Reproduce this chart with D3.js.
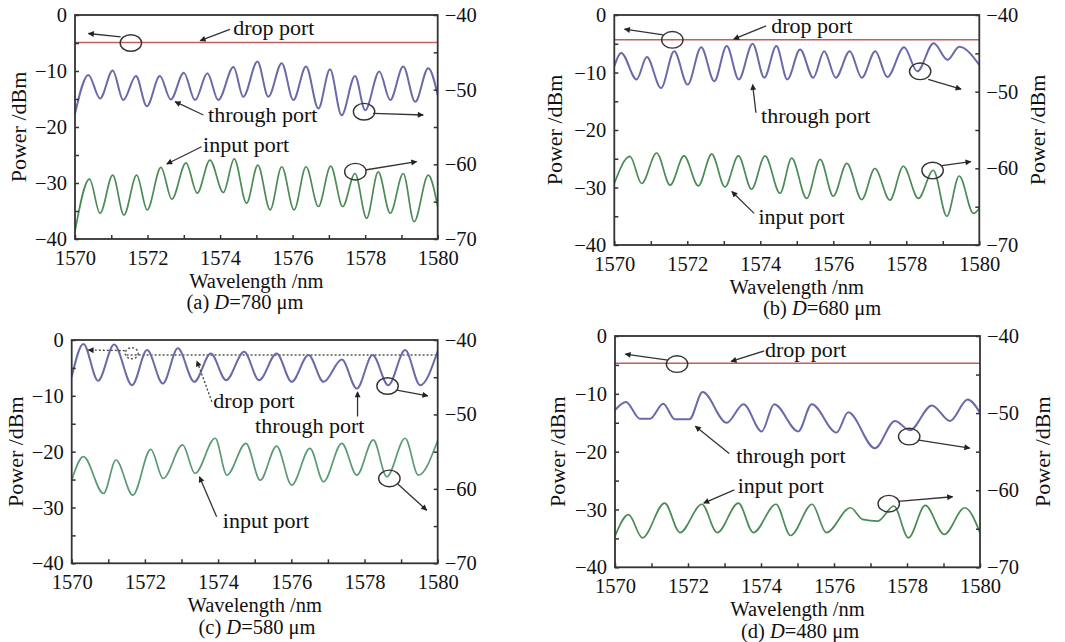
<!DOCTYPE html>
<html>
<head>
<meta charset="utf-8">
<script src="https://cdn.jsdelivr.net/npm/d3@7"></script>
<style>
  body { margin: 0; background: #fff; }
  svg text { font-family: "Liberation Serif", "Times New Roman", "DejaVu Serif", serif; fill: #111; }
</style>
</head>
<body>
<svg id="chart" width="1065" height="642"></svg>
<script>
// axis values
const wavelengthTicks = [1570, 1571, 1572, 1573, 1574, 1575, 1576, 1577, 1578, 1579, 1580];
const leftTicks = [0, -5, -10, -15, -20, -25, -30, -35, -40];
const rightTicks = [-40, -45, -50, -55, -60, -65, -70];

// (a) D=780 um  [wavelength nm, power dBm]
const throughA = [[1570.00,-17.6],[1570.37,-10.7],[1570.69,-14.9],[1571.04,-9.9],[1571.33,-15.2],[1571.68,-10.9],[1571.98,-16.3],[1572.34,-10.9],[1572.64,-15.1],[1573.00,-10.3],[1573.31,-15.2],[1573.65,-10.4],[1573.95,-15.2],[1574.37,-9.3],[1574.64,-14.6],[1575.03,-8.3],[1575.33,-14.6],[1575.70,-8.6],[1576.02,-15.2],[1576.37,-9.2],[1576.71,-16.7],[1577.03,-9.7],[1577.35,-17.9],[1577.72,-10.9],[1578.00,-17.0],[1578.39,-10.1],[1578.69,-15.2],[1579.05,-9.2],[1579.38,-15.5],[1579.74,-9.5],[1580.00,-14.3]];
const inputA = [[1570.00,-38.6],[1570.40,-29.3],[1570.69,-35.4],[1571.04,-28.6],[1571.35,-35.7],[1571.70,-28.6],[1571.99,-34.8],[1572.37,-27.2],[1572.67,-32.9],[1573.06,-26.4],[1573.37,-31.8],[1573.72,-25.9],[1574.09,-31.7],[1574.39,-25.7],[1574.73,-33.6],[1575.04,-26.8],[1575.38,-34.8],[1575.70,-27.1],[1576.04,-34.8],[1576.37,-27.1],[1576.71,-34.2],[1577.05,-27.0],[1577.38,-34.2],[1577.72,-28.3],[1578.04,-36.3],[1578.36,-28.0],[1578.69,-35.4],[1579.05,-28.3],[1579.35,-36.9],[1579.74,-28.6],[1580.00,-34.2]];
const dropA = [[1570,-4.9],[1580,-4.9]];

// (b) D=680 um
const throughB = [[1570.00,-8.9],[1570.19,-6.6],[1570.61,-11.2],[1570.89,-7.3],[1571.28,-12.7],[1571.64,-6.3],[1572.01,-12.1],[1572.38,-5.6],[1572.74,-11.5],[1573.08,-5.4],[1573.41,-11.2],[1573.79,-5.0],[1574.11,-10.9],[1574.44,-5.4],[1574.74,-11.2],[1575.09,-6.0],[1575.45,-10.9],[1575.75,-6.3],[1576.07,-10.9],[1576.45,-6.3],[1576.78,-10.9],[1577.15,-6.3],[1577.48,-10.8],[1577.94,-5.6],[1578.30,-9.8],[1578.75,-4.9],[1579.13,-7.8],[1579.45,-5.5],[1580.00,-8.7]];
const inputB = [[1570.00,-29.3],[1570.43,-24.6],[1570.75,-29.3],[1571.16,-24.0],[1571.53,-29.6],[1571.91,-24.5],[1572.30,-29.7],[1572.67,-24.2],[1573.03,-29.9],[1573.40,-24.5],[1573.76,-30.3],[1574.13,-24.5],[1574.54,-31.0],[1574.86,-24.9],[1575.27,-31.9],[1575.64,-25.1],[1576.00,-31.5],[1576.37,-25.8],[1576.78,-32.1],[1577.14,-26.7],[1577.55,-32.2],[1577.92,-26.3],[1578.33,-31.9],[1578.74,-27.0],[1579.11,-35.0],[1579.45,-28.0],[1579.84,-34.5],[1580.00,-33.6]];
const dropB = [[1570,-4.3],[1580,-4.3]];

// (c) D=580 um
const throughC = [[1570.00,-6.6],[1570.32,-0.7],[1570.72,-7.3],[1571.16,-0.8],[1571.65,-8.1],[1572.06,-1.8],[1572.49,-7.8],[1572.90,-1.5],[1573.35,-7.5],[1573.80,-2.4],[1574.22,-7.2],[1574.71,-2.1],[1575.12,-7.2],[1575.60,-2.4],[1576.01,-7.5],[1576.47,-2.7],[1576.88,-7.5],[1577.38,-3.5],[1577.79,-8.7],[1578.22,-2.7],[1578.65,-8.1],[1579.11,-1.8],[1579.52,-8.1],[1580.00,-2.0]];
const inputC = [[1570.00,-25.1],[1570.32,-20.9],[1570.87,-27.5],[1571.21,-21.5],[1571.67,-27.8],[1572.16,-19.6],[1572.50,-24.8],[1573.03,-18.8],[1573.37,-23.9],[1573.92,-17.6],[1574.24,-24.2],[1574.76,-18.5],[1575.15,-25.1],[1575.60,-19.0],[1576.01,-26.0],[1576.51,-19.4],[1576.88,-25.4],[1577.38,-18.5],[1577.79,-24.2],[1578.24,-17.9],[1578.61,-24.5],[1579.11,-17.6],[1579.47,-24.2],[1580.00,-18.0]];
const dropC = [[1571.5,-2.7],[1580,-2.7]];

// (d) D=480 um
const throughD = [[1570.00,-12.8],[1570.30,-11.4],[1570.68,-14.3],[1570.96,-14.3],[1571.32,-11.7],[1571.64,-14.4],[1572.04,-14.4],[1572.40,-9.7],[1573.06,-15.0],[1573.52,-11.8],[1574.02,-16.5],[1574.36,-11.8],[1575.02,-16.5],[1575.39,-11.8],[1576.07,-16.7],[1576.39,-13.2],[1577.12,-19.4],[1577.67,-14.7],[1578.08,-16.3],[1578.68,-12.0],[1579.18,-14.7],[1579.66,-11.0],[1580.00,-13.3]];
const inputD = [[1570.00,-34.6],[1570.37,-30.9],[1570.75,-34.9],[1571.36,-28.9],[1571.78,-34.0],[1572.38,-29.1],[1572.80,-34.0],[1573.38,-28.9],[1573.79,-34.0],[1574.41,-29.1],[1574.81,-34.5],[1575.40,-29.1],[1575.79,-34.0],[1576.45,-29.7],[1576.78,-31.7],[1577.20,-32.0],[1577.64,-29.4],[1578.04,-34.9],[1578.50,-29.3],[1579.02,-34.3],[1579.58,-29.7],[1580.00,-34.0]];
const dropD = [[1570,-4.7],[1580,-4.7]];

const panels = [
  { left: 75, right: 437.7, top: 15, bottom: 239, leftTitleX: 18, rightTitleX: null, captionX: 245,
    caption: ["(a) ", "D", "=780 μm"], through: throughA, input: inputA, drop: dropA, dropDotted: false,
    inputColor: "#4b8b55",
    notes: [
      { ellipse: [1571.54, -5.0] }, { from: [1571.26, -3.9], to: [1570.37, -3.3] },
      { text: "drop port", at: [1574.36, -3.57] }, { from: [1574.27, -2.55], to: [1573.45, -4.59] },
      { text: "through port", at: [1573.67, -19.05] }, { from: [1573.54, -17.86], to: [1572.76, -15.48] },
      { ellipse: [1577.97, -17.27] }, { from: [1578.22, -17.55], to: [1579.60, -17.86] },
      { text: "input port", at: [1573.53, -24.4] }, { from: [1573.49, -23.52], to: [1572.53, -26.6] },
      { ellipse: [1577.73, -27.98] }, { from: [1578.0, -27.68], to: [1579.42, -26.2] }
    ] },
  { left: 614.3, right: 979.3, top: 15, bottom: 245, leftTitleX: 554, rightTitleX: 1037, captionX: 822,
    caption: ["(b) ", "D", "=680 μm"], through: throughB, input: inputB, drop: dropB, dropDotted: false,
    inputColor: "#4b8b55",
    notes: [
      { ellipse: [1571.59, -4.32] }, { from: [1571.34, -3.45], to: [1570.28, -2.47] },
      { text: "drop port", at: [1574.30, -3.17] }, { from: [1574.16, -1.9], to: [1573.27, -4.2] },
      { text: "through port", at: [1574.02, -18.8] }, { from: [1573.88, -17.0], to: [1573.79, -12.1] },
      { ellipse: [1578.38, -9.8] }, { from: [1578.6, -11.2], to: [1579.50, -12.9] },
      { text: "input port", at: [1573.95, -36.3] }, { from: [1573.83, -34.5], to: [1573.22, -30.7] },
      { ellipse: [1578.72, -27.05] }, { from: [1578.97, -26.2], to: [1579.77, -25.5] }
    ] },
  { left: 71.7, right: 437.7, top: 340, bottom: 563.3, leftTitleX: 15, rightTitleX: null, captionX: 257,
    caption: ["(c) ", "D", "=580 μm"], through: throughC, input: inputC, drop: dropC, dropDotted: true,
    inputColor: "#5a9a74",
    notes: [
      { ellipse: [1571.64, -2.38], small: true }, { from: [1571.45, -1.9], to: [1570.45, -1.8], dotted: true },
      { text: "drop port", at: [1573.87, -12.2] }, { from: [1573.83, -11.05], to: [1573.42, -3.76], dotted: true },
      { text: "through port", at: [1575.01, -16.7] }, { from: [1577.81, -13.7], to: [1577.81, -9.3] },
      { ellipse: [1578.63, -8.24] }, { from: [1578.88, -8.96], to: [1579.73, -10.0] },
      { text: "input port", at: [1574.13, -33.75] }, { from: [1573.96, -31.66], to: [1573.49, -24.5] },
      { ellipse: [1578.68, -24.8] }, { from: [1578.91, -25.8], to: [1579.70, -30.5] }
    ] },
  { left: 615, right: 980, top: 336, bottom: 567.3, leftTitleX: 557, rightTitleX: 1042, captionX: 800,
    caption: ["(d) ", "D", "=480 μm"], through: throughD, input: inputD, drop: dropD, dropDotted: false,
    inputColor: "#4b8b55",
    notes: [
      { ellipse: [1571.70, -4.86] }, { from: [1571.45, -4.17], to: [1570.28, -3.14] },
      { text: "drop port", at: [1574.11, -3.71] }, { from: [1574.09, -2.57], to: [1573.18, -4.4] },
      { text: "through port", at: [1573.32, -21.9] }, { from: [1573.13, -20.3], to: [1572.20, -15.6] },
      { ellipse: [1578.06, -17.4] }, { from: [1578.32, -18.0], to: [1579.72, -19.4] },
      { text: "input port", at: [1573.36, -27.1] }, { from: [1573.27, -26.6], to: [1572.43, -28.9] },
      { ellipse: [1577.50, -29.0] }, { from: [1577.76, -28.6], to: [1579.25, -27.8] }
    ] }
];

const svg = d3.select("#chart");
const defs = svg.append("defs");
defs.append("marker")
  .attr("id", "head")
  .attr("viewBox", "0 0 10 10")
  .attr("refX", 9).attr("refY", 5)
  .attr("markerUnits", "userSpaceOnUse")
  .attr("markerWidth", 9).attr("markerHeight", 6)
  .attr("orient", "auto")
  .append("path").attr("d", "M0,0L10,5L0,10Z").attr("fill", "#222");

const fmt = d => d3.format("d")(d);

panels.forEach((p, i) => {
  const g = svg.append("g");
  const x = d3.scaleLinear().domain([1570, 1580]).range([p.left, p.right]);
  const y = d3.scaleLinear().domain([0, -40]).range([p.top, p.bottom]);
  const y2 = d3.scaleLinear().domain([-40, -70]).range([p.top, p.bottom]);

  defs.append("clipPath").attr("id", "clip" + i)
    .append("rect").attr("x", p.left).attr("y", p.top)
    .attr("width", p.right - p.left).attr("height", p.bottom - p.top);

  const line = d3.line().x(d => x(d[0])).y(d => y(d[1])).curve(d3.curveMonotoneX);
  const plot = g.append("g").attr("clip-path", `url(#clip${i})`);

  plot.append("path").datum(p.drop)
    .attr("fill", "none")
    .attr("stroke", p.dropDotted ? "#555" : "#c0605e")
    .attr("stroke-width", p.dropDotted ? 1.4 : 1.6)
    .attr("stroke-dasharray", p.dropDotted ? "2,2" : null)
    .attr("d", line);

  plot.append("path").datum(p.input)
    .attr("fill", "none").attr("stroke", p.inputColor).attr("stroke-width", 1.7)
    .attr("d", line);

  plot.append("path").datum(p.through)
    .attr("fill", "none").attr("stroke", "#6a6aaa").attr("stroke-width", 2)
    .attr("d", line);

  // axes, ticks pointing inward
  const bottomAxis = g.append("g").attr("transform", `translate(0,${p.bottom})`)
    .call(d3.axisBottom(x).tickValues(wavelengthTicks).tickSize(-4).tickSizeOuter(0).tickPadding(11)
      .tickFormat(d => d % 2 === 0 ? fmt(d) : ""));
  const leftAxis = g.append("g").attr("transform", `translate(${p.left},0)`)
    .call(d3.axisLeft(y).tickValues(leftTicks).tickSize(-4).tickSizeOuter(0).tickPadding(8)
      .tickFormat(d => d % 10 === 0 ? fmt(d) : ""));
  const rightAxis = g.append("g").attr("transform", `translate(${p.right},0)`)
    .call(d3.axisRight(y2).tickValues(rightTicks).tickSize(-4).tickSizeOuter(0).tickPadding(7)
      .tickFormat(d => d % 10 === 0 ? fmt(d) : ""));
  [bottomAxis, leftAxis, rightAxis].forEach(a => {
    a.attr("font-size", 20.5).attr("font-family", null);
    a.select(".domain").remove();
    a.selectAll(".tick line").attr("stroke", "#333").attr("stroke-width", 1.5);
  });

  g.append("rect")
    .attr("x", p.left).attr("y", p.top)
    .attr("width", p.right - p.left).attr("height", p.bottom - p.top)
    .attr("fill", "none").attr("stroke", "#333").attr("stroke-width", 1.8);

  const midY = (p.top + p.bottom) / 2;
  g.append("text")
    .attr("transform", `translate(${p.leftTitleX},${midY}) rotate(-90)`)
    .attr("text-anchor", "middle").attr("dy", "0.35em")
    .attr("font-size", 22).text("Power /dBm");
  if (p.rightTitleX) {
    g.append("text")
      .attr("transform", `translate(${p.rightTitleX},${midY}) rotate(-90)`)
      .attr("text-anchor", "middle").attr("dy", "0.35em")
      .attr("font-size", 22).text("Power /dBm");
  }

  g.append("text")
    .attr("x", (p.left + p.right) / 2).attr("y", p.bottom + 48.5)
    .attr("text-anchor", "middle").attr("font-size", 20.5)
    .text("Wavelength /nm");

  const cap = g.append("text")
    .attr("x", p.captionX).attr("y", p.bottom + 70.3)
    .attr("text-anchor", "middle").attr("font-size", 20.5);
  cap.append("tspan").text(p.caption[0]);
  cap.append("tspan").attr("font-style", "italic").text(p.caption[1]);
  cap.append("tspan").text(p.caption[2]);

  // annotations
  p.notes.forEach(n => {
    if (n.ellipse) {
      g.append("ellipse")
        .attr("cx", x(n.ellipse[0])).attr("cy", y(n.ellipse[1]))
        .attr("rx", n.small ? 6.5 : 10.7).attr("ry", n.small ? 5.5 : 8.3)
        .attr("fill", "none").attr("stroke", n.small ? "#555" : "#333")
        .attr("stroke-width", 1.4)
        .attr("stroke-dasharray", n.small ? "2,2" : null);
    } else if (n.text) {
      g.append("text")
        .attr("x", x(n.at[0])).attr("y", y(n.at[1]))
        .attr("font-size", 22).text(n.text);
    } else {
      g.append("line")
        .attr("x1", x(n.from[0])).attr("y1", y(n.from[1]))
        .attr("x2", x(n.to[0])).attr("y2", y(n.to[1]))
        .attr("stroke", n.dotted ? "#444" : "#333").attr("stroke-width", 1.3)
        .attr("stroke-dasharray", n.dotted ? "2,2" : null)
        .attr("marker-end", "url(#head)");
    }
  });
});
</script>
</body>
</html>
